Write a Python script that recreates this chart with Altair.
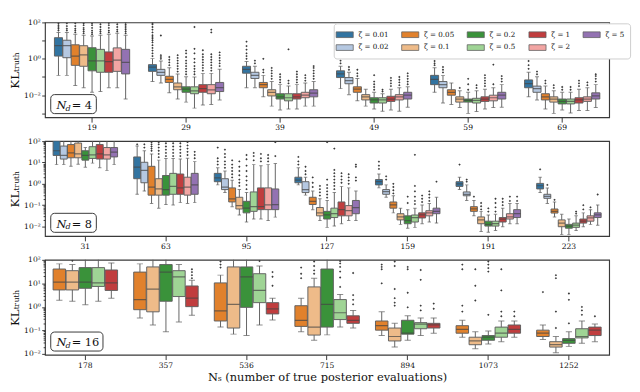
import math
import altair as alt
import pandas as pd

# ---------------- data (log10 of KL values) ----------------
HUES = ["0.01", "0.02", "0.05", "0.1", "0.2", "0.5", "1", "2", "5"]
HUE_COLORS = ["#3274a1", "#b5c8e1", "#e1812c", "#eebb89", "#3a923a",
              "#9fd495", "#c03d3e", "#f2a5a3", "#9372b2"]
P3_HUES = ["0.05", "0.1", "0.2", "0.5", "1"]

P1_GROUPS = ["19", "29", "39", "49", "59", "69"]
P2_GROUPS = ["31", "63", "95", "127", "159", "191", "223"]
P3_GROUPS = ["178", "357", "536", "715", "894", "1073", "1252"]

# each box: [lower whisker, q1, median, q3, upper whisker] as log10 values
P1_STATS = {
    "19": [[-0.91, 0.15, 0.72, 1.16, 1.45], [-0.91, 0.06, 0.72, 1.02, 1.45],
           [-1.47, -0.36, 0.15, 0.77, 1.35], [-1.59, -0.41, 0.22, 0.72, 1.30],
           [-1.84, -0.66, -0.12, 0.61, 1.25], [-1.80, -0.74, -0.12, 0.52, 1.30],
           [-1.59, -0.74, -0.15, 0.38, 1.35], [-1.59, -0.69, -0.07, 0.60, 1.40],
           [-2.21, -0.83, -0.19, 0.52, 1.30]],
    "29": [[-1.25, -0.69, -0.46, -0.32, 0.01], [-1.33, -0.91, -0.74, -0.58, -0.12],
           [-1.87, -1.30, -1.13, -0.96, -0.49], [-2.21, -1.70, -1.54, -1.33, -0.83],
           [-2.38, -1.84, -1.67, -1.54, -0.99], [-2.71, -1.92, -1.76, -1.54, -1.00],
           [-2.54, -1.84, -1.64, -1.42, -0.80], [-2.51, -1.92, -1.71, -1.42, -0.80],
           [-2.26, -1.80, -1.59, -1.30, -0.57]],
    "39": [[-1.59, -0.79, -0.58, -0.41, -0.15], [-1.59, -1.08, -0.91, -0.74, -0.41],
           [-2.09, -1.59, -1.42, -1.30, -0.91], [-2.60, -2.04, -1.84, -1.70, -1.25],
           [-2.81, -2.21, -2.09, -1.92, -1.42], [-2.76, -2.31, -2.14, -1.92, -1.50],
           [-2.76, -2.21, -2.09, -1.92, -1.42], [-2.60, -2.14, -2.00, -1.84, -1.33],
           [-2.60, -2.09, -1.89, -1.70, -1.25]],
    "49": [[-1.64, -1.03, -0.83, -0.66, -0.41], [-1.97, -1.37, -1.20, -1.03, -0.74],
           [-2.31, -1.84, -1.67, -1.54, -1.08], [-2.60, -2.26, -2.09, -1.97, -1.67],
           [-2.76, -2.43, -2.26, -2.14, -1.84], [-2.88, -2.43, -2.26, -2.14, -1.92],
           [-2.81, -2.34, -2.21, -2.06, -1.67], [-2.88, -2.26, -2.09, -1.97, -1.59],
           [-2.66, -2.21, -2.00, -1.84, -1.54]],
    "59": [[-1.84, -1.42, -1.13, -0.91, -0.49], [-2.43, -1.59, -1.42, -1.25, -0.91],
           [-2.51, -2.00, -1.84, -1.70, -1.33], [-2.68, -2.38, -2.21, -2.09, -1.76],
           [-3.00, -2.38, -2.29, -2.21, -1.84], [-2.90, -2.43, -2.29, -2.17, -1.76],
           [-2.76, -2.34, -2.21, -2.09, -1.67], [-2.68, -2.31, -2.14, -2.00, -1.59],
           [-2.66, -2.21, -2.00, -1.84, -1.42]],
    "69": [[-2.09, -1.59, -1.37, -1.16, -0.74], [-2.26, -1.84, -1.64, -1.50, -0.99],
           [-2.76, -2.26, -2.09, -1.92, -1.50], [-3.00, -2.38, -2.21, -2.09, -1.76],
           [-2.81, -2.48, -2.34, -2.21, -1.84], [-2.98, -2.48, -2.34, -2.21, -1.84],
           [-2.84, -2.43, -2.26, -2.14, -1.67], [-2.84, -2.34, -2.21, -2.09, -1.59],
           [-2.68, -2.21, -2.04, -1.87, -1.42]],
}
P1_OUT = {
    "19": [[1.55, 1.65, 1.75, 1.85, 1.95], [1.55, 1.65, 1.8, 1.95],
           [1.45, 1.55, 1.65, 1.8, 1.95], [1.4, 1.5, 1.6, 1.7, 1.85, 1.95],
           [1.35, 1.45, 1.55, 1.7, 1.85, 1.95], [1.4, 1.5, 1.6, 1.75, 1.9],
           [1.45, 1.55, 1.7, 1.85, 1.97], [1.5, 1.6, 1.75, 1.9],
           [1.4, 1.5, 1.6, 1.7, 1.8, 1.9, 2.0]],
    "29": [[0.15, 0.3, 0.45, 0.6, 0.75, 0.9, 1.0, 1.1, 1.2, 1.3, 1.45, 1.6, 1.75, 1.9, 1.97],
           [0.0, 0.1, 0.2, 1.28], [-0.35, -0.2, -0.05, 0.1],
           [-0.7, -0.55, -0.4, -0.25, -0.1, 0.05, 0.2],
           [-0.85, -0.7, -0.55, -0.4, -0.25, -0.1, 0.1, 0.3, 0.45],
           [-0.85, -0.7, -0.55, -0.4, -0.2, 0.0, 0.3, 0.55, 1.75],
           [-0.65, -0.5, -0.35, -0.2, -0.05, 0.1, 0.25, 0.47],
           [-0.65, -0.5, -0.35, -0.2, -0.05, 0.1, 0.25, 1.45, 1.6],
           [-0.4, -0.25, -0.1, 0.05, 0.2, 0.35]],
    "39": [[0.0, 0.15, 0.3, 0.5, 0.7, 0.94], [-0.25, -0.1], [-0.75, -0.6, 0.0],
           [-1.1, -0.95, -0.8, -0.65, -0.5], [-1.3, -1.15, -1.0, -0.85],
           [-1.35, -1.2, 0.52], [-1.3, -1.15, -1.0, -0.85, -0.7], [-1.2, -1.05, -0.9],
           [-1.1, -0.95, -0.8, -0.65, -0.5, -0.4]],
    "49": [[-0.25, -0.1, 0.05, 0.2], [-0.6, -0.45], [-0.95, -0.8, -0.6], [],
           [-1.7, -1.55, -1.4, -1.25, -0.9], [-1.8, -1.7, 0.05],
           [-1.5, -1.35, -1.2, -1.05], [-1.45, -1.3, -1.15, -1.0],
           [-1.4, -1.25, -1.1, -0.95, -0.8]],
    "59": [[-0.35, -0.25, -0.12], [-0.75, -0.6, -0.45], [], [-1.6],
           [-1.7, -1.4, -1.1], [-1.6, -1.45], [-1.5, -1.35, -1.2, -1.05, -0.9],
           [-1.4, -0.32], [-1.25, -1.1, -0.95]],
    "69": [[-0.55, -0.35, -0.12], [-0.85, -0.7], [-1.35, -1.2], [-1.6, -1.45],
           [-1.7, -1.55], [-1.7, -1.55], [-1.5, -1.35, -1.2], [-1.45, -1.3],
           [-1.25, -1.1, -0.95, -0.85]],
}

P2_STATS = {
    "31": [[0.90, 1.33, 1.55, 2.20, 2.50], [0.90, 1.16, 1.33, 1.77, 2.20],
           [0.82, 1.22, 1.45, 1.84, 2.20], [0.92, 1.22, 1.40, 1.91, 2.20],
           [0.78, 1.11, 1.33, 1.55, 1.70], [0.97, 1.19, 1.36, 1.74, 2.10],
           [0.75, 1.16, 1.40, 1.84, 2.20], [0.63, 1.16, 1.36, 1.70, 2.20],
           [0.90, 1.26, 1.48, 1.70, 2.20]],
    "63": [[-0.49, 0.24, 0.78, 1.26, 1.77], [-0.34, 0.05, 0.63, 1.01, 1.55],
           [-0.92, -0.53, -0.15, 0.82, 1.40], [-1.14, -0.53, -0.24, 0.24, 1.11],
           [-0.97, -0.53, -0.27, 0.39, 1.19], [-0.99, -0.49, -0.12, 0.49, 1.19],
           [-0.88, -0.49, -0.19, 0.46, 1.16], [-0.92, -0.53, -0.15, 0.31, 1.20],
           [-0.88, -0.49, -0.05, 0.49, 1.04]],
    "95": [[-0.05, 0.10, 0.28, 0.49, 0.75], [-0.41, -0.27, -0.15, 0.24, 0.60],
           [-1.07, -0.85, -0.70, -0.19, 0.17], [-1.46, -1.18, -1.02, -0.63, -0.27],
           [-1.79, -1.36, -1.14, -0.82, -0.41], [-1.65, -1.29, -1.07, -0.38, 0.90],
           [-1.65, -1.21, -1.07, -0.19, 0.85], [-1.72, -1.21, -0.99, -0.19, 0.90],
           [-1.56, -1.21, -0.97, -0.24, 0.95]],
    "127": [[-0.05, 0.05, 0.17, 0.31, 0.75], [-0.53, -0.41, -0.27, 0.10, 0.31],
            [-1.21, -0.97, -0.82, -0.63, -0.34], [-1.72, -1.50, -1.36, -1.11, -0.70],
            [-2.04, -1.65, -1.46, -1.29, -0.78], [-1.98, -1.58, -1.40, -1.14, -0.41],
            [-1.87, -1.50, -1.21, -0.85, -0.12], [-1.72, -1.50, -1.26, -1.02, -0.19],
            [-1.72, -1.40, -1.11, -0.78, -0.34]],
    "159": [[-0.19, -0.05, 0.10, 0.20, 0.46], [-0.63, -0.49, -0.36, -0.27, -0.05],
            [-1.36, -1.14, -0.99, -0.85, -0.56], [-1.90, -1.69, -1.55, -1.40, -1.14],
            [-2.08, -1.87, -1.72, -1.50, -1.21], [-2.04, -1.79, -1.58, -1.46, -1.14],
            [-1.87, -1.60, -1.46, -1.36, -0.99], [-1.79, -1.50, -1.36, -1.26, -0.92],
            [-1.84, -1.40, -1.29, -1.14, -0.63]],
    "191": [[-0.27, -0.12, 0.00, 0.10, 0.31], [-0.78, -0.56, -0.49, -0.38, -0.05],
            [-1.50, -1.29, -1.17, -1.07, -0.78], [-2.23, -1.87, -1.69, -1.55, -1.29],
            [-2.27, -1.98, -1.90, -1.75, -1.46], [-2.19, -1.98, -1.87, -1.75, -1.43],
            [-2.01, -1.79, -1.65, -1.58, -1.14], [-1.87, -1.65, -1.55, -1.40, -0.92],
            [-1.87, -1.58, -1.40, -1.21, -0.92]],
    "223": [[-0.41, -0.24, -0.09, 0.02, 0.31], [-0.92, -0.68, -0.59, -0.49, -0.20],
            [-1.55, -1.37, -1.29, -1.18, -0.85], [-2.38, -2.01, -1.84, -1.69, -1.43],
            [-2.38, -2.08, -1.98, -1.90, -1.65], [-2.19, -2.04, -1.94, -1.84, -1.50],
            [-2.01, -1.84, -1.75, -1.65, -1.36], [-1.90, -1.75, -1.60, -1.50, -1.21],
            [-1.94, -1.58, -1.46, -1.36, -0.99]],
}
P2_OUT = {
    "31": [[], [], [], [], [], [], [], [], []],
    "63": [[1.85], [1.7, 1.85], [1.55, 1.65, 1.75, 1.85, 1.95],
           [1.25, 1.4, 1.55, 1.7, 1.85, 1.95], [1.3, 1.45, 1.6, 1.75, 1.9],
           [1.3, 1.45, 1.6, 1.75, 1.9], [1.3, 1.45, 1.6, 1.75, 1.9],
           [1.35, 1.5, 1.65, 1.8, 1.95], [1.2, 1.35, 1.5]],
    "95": [[0.9, 1.05, 1.2, 1.7], [0.75, 0.9, 1.05, 1.25, 1.4, 1.6],
           [0.3, 0.45, 0.6, 0.75, 0.9, 1.1], [-0.1, 0.05, 0.2, 0.4, 0.6, 0.8, 1.05],
           [-0.25, -0.05, 0.15, 0.35, 0.6, 0.85, 1.15, 1.35], [1.1, 1.3, 1.45],
           [1.05, 1.2, 1.4], [1.05, 1.2, 1.35], [1.3, 1.95]],
    "127": [[0.9, 1.05, 1.26], [0.45, 0.6, 0.8], [-0.15, 0.05, 0.3],
            [-0.55, -0.4, -0.25, -0.1], [-0.65, -0.5, -0.35, -0.2, -0.05, 0.2, 1.95],
            [-0.25, -0.1, 0.05, 0.2, 0.35, 0.5, 0.65, 1.65], [0.05, 0.2, 0.35, 0.5],
            [0.0, 0.15, 0.3, 0.45], [0.15, 0.3, 0.8, 0.9]],
    "159": [[0.7, 0.85, 1.04], [0.2, 0.35], [-0.45, -0.3, -0.15, 0.0], [],
            [-0.9, -0.6], [-0.95, -0.8, -0.6, -0.35, -0.1, 1.36],
            [-0.85, -0.7, -0.55], [-0.8, -0.65, -0.5, -0.35], [0.1]],
    "191": [[0.9], [0.1, 0.2], [-0.6], [-1.2, -1.05, -0.9], [-1.3, -1.15],
            [-1.3, -1.1, -0.9, -0.7], [-1.0, -0.85, -0.7], [-0.8, -0.6], [-0.8, -0.6]],
    "223": [[0.68], [-0.05], [-0.75], [], [], [-1.4, -1.3], [-1.2, -1.0],
            [-1.1], [-0.5]],
}

P3_STATS = {
    "178": [[0.28, 0.72, 1.05, 1.61, 1.83], [0.24, 0.72, 1.05, 1.54, 1.80],
            [0.09, 0.79, 1.05, 1.67, 2.10], [0.24, 0.87, 1.02, 1.67, 2.10],
            [0.37, 0.70, 1.02, 1.57, 1.87]],
    "357": [[-0.47, -0.12, 0.31, 1.48, 1.83], [-0.77, -0.21, 0.76, 1.70, 2.10],
            [-1.06, 0.24, 1.48, 1.80, 2.20], [-0.64, 0.44, 1.28, 1.54, 1.80],
            [-0.36, 0.01, 0.37, 0.89, 1.13]],
    "536": [[-0.86, -0.60, -0.17, 1.02, 1.35], [-1.16, -0.90, 0.11, 1.70, 2.10],
            [-1.22, -0.02, 1.28, 1.70, 2.10], [-0.77, 0.18, 0.70, 1.41, 1.74],
            [-0.56, -0.30, -0.08, 0.18, 0.37]],
    "715": [[-1.06, -0.83, -0.57, 0.05, 0.37], [-1.42, -1.20, -0.86, 0.85, 1.22],
            [-1.19, -0.86, 0.11, 1.61, 2.10], [-0.86, -0.54, -0.25, 0.31, 0.53],
            [-0.90, -0.70, -0.57, -0.38, -0.15]],
    "894": [[-1.22, -0.99, -0.80, -0.60, -0.21], [-1.71, -1.45, -1.26, -0.90, -0.70],
            [-1.42, -1.16, -1.12, -0.57, -0.38], [-1.22, -0.93, -0.73, -0.67, -0.47],
            [-1.12, -0.90, -0.77, -0.70, -0.47]],
    "1073": [[-1.29, -1.12, -0.96, -0.80, -0.57], [-1.78, -1.61, -1.45, -1.29, -1.06],
             [-1.58, -1.42, -1.29, -1.22, -1.03], [-1.48, -1.29, -1.12, -0.86, -0.60],
             [-1.29, -1.12, -0.96, -0.77, -0.60]],
    "1252": [[-1.39, -1.26, -1.12, -0.99, -0.77], [-1.95, -1.71, -1.61, -1.48, -1.26],
             [-1.68, -1.55, -1.42, -1.35, -1.06], [-1.55, -1.32, -1.26, -0.93, -0.60],
             [-1.48, -1.22, -0.99, -0.86, -0.73]],
}
P3_OUT = {
    "178": [[], [1.96], [], [], []],
    "357": [[], [], [], [], [1.22, 1.35, 1.48, 1.6]],
    "536": [[1.67, 1.8, 1.93], [], [], [1.95], [0.9, 1.28, 1.48]],
    "715": [[1.22, 1.41, 1.67], [1.41, 1.55, 1.74, 1.93], [],
            [0.85, 1.25, 1.5, 1.7, 1.85, 1.95], [0.11, 0.3, 0.5, 1.44]],
    "894": [[1.0, 1.6, 1.7, 1.8], [0.05, 0.18, 0.37, 0.76, 1.74, 1.93],
            [-0.02, 0.6, 1.6, 1.7], [-0.15, 0.05, 1.15, 1.57], [-0.08, 0.14]],
    "1073": [[-0.2, 0.05, 1.6, 1.8], [0.27, 0.9, 1.6], [-0.34, 1.5, 1.65, 1.8, 1.93],
             [-0.4, -0.2, 0.7, 1.6], [-0.4, -0.2]],
    "1252": [[0.63], [-0.9, -0.2, 1.22, 1.35], [-0.7, 0.3, 0.57],
             [-0.34, -0.15, 0.0], [-0.4]],
}

# ---------------- layout / style ----------------
W = 594
H = 100
FONT = "DejaVu Serif"
EDGE = "#5f5f5f"
SUP = {-3: "10⁻³", -2: "10⁻²", -1: "10⁻¹", 0: "10⁰", 1: "10¹", 2: "10²"}


def box_frame(groups, hues, stats):
    rows = []
    for g in groups:
        for h, s in zip(hues, stats[g]):
            lo, q1, md, q3, hi = s
            rows.append(dict(group=g, hue=h, lo=10 ** lo, q1=10 ** q1,
                             med=10 ** md, q3=10 ** q3, hi=10 ** hi))
    return pd.DataFrame(rows)


def out_frame(groups, hues, outl):
    rows = []
    for g in groups:
        for h, vals in zip(hues, outl[g]):
            for v in vals:
                rows.append(dict(group=g, hue=h, val=10 ** v))
    return pd.DataFrame(rows)


def label_expr(exps):
    e = "log(datum.value)/LN10"
    expr = "''"
    for k in exps:
        expr = f"(abs({e} - ({k})) < 0.001) ? '{SUP[k]}' : " + expr
    return expr


def panel(groups, hues, stats, outl, ymin, decades, label_exps, minor,
          nd_text, nd_w, show_legend, xtitle):
    bdf = box_frame(groups, hues, stats)
    odf = out_frame(groups, hues, outl)
    n_g, n_h = len(groups), len(hues)
    box_w = W / n_g * 0.8 / n_h * 0.96

    ticks = [10.0 ** k for k in decades]
    if minor:
        ticks += [m * 10.0 ** k for k in decades for m in range(2, 10)
                  if ymin <= (k + math.log10(m)) <= 2]
    yaxis = alt.Axis(
        values=ticks, labelExpr=label_expr(label_exps), labelOverlap=False,
        title="KLₜᵣᵤₜₕ", titleFontSize=12.5, titlePadding=2, labelPadding=1.5,
        grid=False, domain=False,
        tickSize={"condition": {"test": "abs(log(datum.value)/LN10 - round(log(datum.value)/LN10)) > 0.001",
                                "value": 2}, "value": 3.5},
    )
    yscale = alt.Scale(type="log", domain=[10 ** ymin, 100], nice=False)
    xaxis = alt.Axis(labelAngle=0, title=xtitle, titleFontSize=12, titlePadding=3,
                     labelPadding=2, grid=False, domain=False)
    X = alt.X("group:N", sort=groups, axis=xaxis,
              scale=alt.Scale(paddingInner=0.2, paddingOuter=0.1))
    XO = alt.XOffset("hue:N", sort=hues, scale=alt.Scale(domain=hues, paddingInner=0.04))

    cscale = alt.Scale(domain=HUES, range=HUE_COLORS)
    if show_legend:
        legend = alt.Legend(
            orient="none", legendX=304, legendY=1, columns=5, direction="vertical",
            title=None,
            symbolType="M-1.8,-0.6L1.8,-0.6L1.8,0.6L-1.8,0.6Z", symbolSize=100,
            symbolStrokeColor=EDGE, symbolStrokeWidth=0.8, symbolOpacity=1,
            labelFont=FONT, labelFontSize=7.5, labelColor="#111",
            labelExpr="'ζ = ' + datum.label", labelOffset=9,
            columnPadding=11, rowPadding=3, padding=6,
            fillColor="white", strokeColor="#cccccc", cornerRadius=3,
        )
    else:
        legend = None

    base = alt.Chart(bdf)
    boxes = base.mark_bar(stroke=EDGE, strokeWidth=1, clip=True).encode(
        x=X, xOffset=XO,
        y=alt.Y("q1:Q", scale=yscale, axis=yaxis), y2="q3:Q",
        color=alt.Color("hue:N", scale=cscale, legend=legend),
    )
    wlo = base.mark_rule(color=EDGE, strokeWidth=1, clip=True).encode(
        x=X, xOffset=XO, y=alt.Y("lo:Q", scale=yscale, axis=yaxis), y2="q1:Q")
    whi = base.mark_rule(color=EDGE, strokeWidth=1, clip=True).encode(
        x=X, xOffset=XO, y=alt.Y("q3:Q", scale=yscale, axis=yaxis), y2="hi:Q")
    caplo = base.mark_tick(color=EDGE, thickness=1, size=box_w / 2, clip=True).encode(
        x=X, xOffset=XO, y=alt.Y("lo:Q", scale=yscale, axis=yaxis))
    caphi = base.mark_tick(color=EDGE, thickness=1, size=box_w / 2, clip=True).encode(
        x=X, xOffset=XO, y=alt.Y("hi:Q", scale=yscale, axis=yaxis))
    med = base.mark_tick(color="#444444", thickness=1.3, size=box_w, clip=True).encode(
        x=X, xOffset=XO, y=alt.Y("med:Q", scale=yscale, axis=yaxis))
    flier = alt.Chart(odf).mark_point(shape="diamond", filled=True, size=6,
                                      color="#3a3a3a", opacity=1, clip=True).encode(
        x=X, xOffset=XO, y=alt.Y("val:Q", scale=yscale, axis=yaxis))

    one = pd.DataFrame({"k": [0]})
    ann_box = alt.Chart(one).mark_rect(fill="white", stroke="#333333", strokeWidth=1,
                                       cornerRadius=4).encode(
        x=alt.value(6), x2=alt.value(6 + nd_w), y=alt.value(H - 24), y2=alt.value(H - 4))
    t_n = alt.Chart(one).mark_text(text="N", font=FONT, fontStyle="italic", fontSize=12,
                                   align="left", baseline="alphabetic", color="#111").encode(
        x=alt.value(12), y=alt.value(H - 9))
    t_d = alt.Chart(one).mark_text(text="d", font=FONT, fontStyle="italic", fontSize=8.5,
                                   align="left", baseline="alphabetic", color="#111").encode(
        x=alt.value(21.5), y=alt.value(H - 7))
    t_eq = alt.Chart(one).mark_text(text=nd_text, font=FONT, fontSize=12,
                                    align="left", baseline="alphabetic", color="#111").encode(
        x=alt.value(28), y=alt.value(H - 9))

    return alt.layer(boxes, wlo, whi, caplo, caphi, med, flier,
                     ann_box, t_n, t_d, t_eq).properties(width=W, height=H)


p1 = panel(P1_GROUPS, HUES, P1_STATS, P1_OUT, -3.22, [-3, -2, -1, 0, 1, 2],
           [-2, 0, 2], False, "= 4", 48, True, None)
p2 = panel(P2_GROUPS, HUES, P2_STATS, P2_OUT, -2.45, [-2, -1, 0, 1, 2],
           [-2, -1, 0, 1, 2], True, "= 8", 48, False, None)
p3 = panel(P3_GROUPS, P3_HUES, P3_STATS, P3_OUT, -2.04, [-2, -1, 0, 1, 2],
           [-2, -1, 0, 1, 2], True, "= 16", 55, False,
           "Nₛ (number of true posterior evaluations)")

chart = alt.vconcat(p1, p2, p3, spacing=25, bounds="flush").resolve_scale(
    x="independent", y="independent", color="independent", xOffset="independent"
).properties(
    padding={"left": 0, "top": 0, "right": 0, "bottom": 0},
    background="white",
).configure_view(
    stroke="#3a3a3a", strokeWidth=1.2
).configure_axis(
    labelFont=FONT, labelFontSize=8, labelColor="#111111", tickColor="#333333",
    tickWidth=1, titleFont=FONT, titleFontWeight="normal", titleColor="#111111",
    domain=False, grid=False
)

chart.save("out.html", embed_options={"renderer": "svg", "actions": False})
